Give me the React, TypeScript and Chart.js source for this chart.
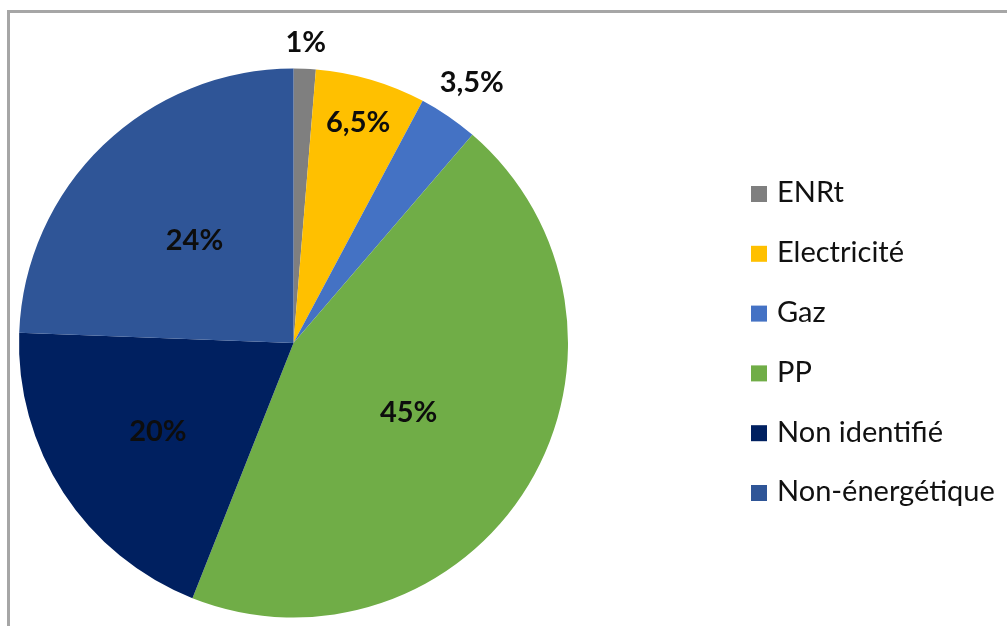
import React, { useEffect, useRef } from "react";
import { Chart, registerables } from "chart.js";

Chart.register(...registerables);

// ---- Data ----
const categories = ["ENRt", "Electricité", "Gaz", "PP", "Non identifié", "Non-énergétique"];
const shares = [1.3, 6.5, 3.5, 44.7, 19.6, 24.4];
const shareLabels = ["1%", "6,5%", "3,5%", "45%", "20%", "24%"];
const sliceColors = ["#7F7F7F", "#FFC000", "#4472C4", "#70AD47", "#002060", "#2F5597"];

// ---- Layout / style ----
const FONT = "Lato, 'Open Sans', sans-serif";
const labelRadiusFactor = [1.095, 0.835, 1.15, 0.49, 0.59, 0.52];

const dataLabelPlugin = {
  id: "sliceLabels",
  afterDatasetsDraw(chart: any) {
    const ctx = chart.ctx;
    const meta = chart.getDatasetMeta(0);
    const labels = chart.data.datasets[0].sliceLabels as string[];
    ctx.save();
    ctx.font = `bold 29px ${FONT}`;
    ctx.fillStyle = "#0d0d0d";
    ctx.textAlign = "center";
    ctx.textBaseline = "middle";
    meta.data.forEach((arc: any, i: number) => {
      const p = arc.getProps(["x", "y", "startAngle", "endAngle", "outerRadius"], true);
      const mid = (p.startAngle + p.endAngle) / 2;
      const r = p.outerRadius * labelRadiusFactor[i];
      ctx.fillText(labels[i], p.x + Math.cos(mid) * r, p.y + Math.sin(mid) * r);
    });
    ctx.restore();
  },
};

const legendPlugin = {
  id: "sideLegend",
  afterDraw(chart: any) {
    const ctx = chart.ctx;
    const ds = chart.data.datasets[0];
    const x0 = 751;
    const y0 = 193;
    const step = 59.8;
    const box = 16;
    ctx.save();
    ctx.font = `29px ${FONT}`;
    ctx.textAlign = "left";
    ctx.textBaseline = "middle";
    (chart.data.labels as string[]).forEach((lab, i) => {
      const y = y0 + i * step;
      ctx.fillStyle = ds.backgroundColor[i];
      ctx.fillRect(x0, y - box / 2 + 1, box, box);
      ctx.fillStyle = "#111111";
      ctx.fillText(lab, x0 + 26, y);
    });
    ctx.restore();
  },
};

export default function App() {
  const canvasRef = useRef<HTMLCanvasElement | null>(null);

  useEffect(() => {
    const canvas = canvasRef.current;
    if (!canvas) return;
    const chart = new Chart(canvas, {
      type: "pie",
      data: {
        labels: categories,
        datasets: [
          {
            data: shares,
            backgroundColor: sliceColors,
            borderWidth: 0,
            // @ts-ignore
            sliceLabels: shareLabels,
          } as any,
        ],
      },
      options: {
        responsive: false,
        animation: false,
        devicePixelRatio: 1,
        layout: { padding: { left: 19, top: 68, right: 439, bottom: 8 } },
        plugins: {
          legend: { display: false },
          tooltip: { enabled: false },
        },
      },
      plugins: [dataLabelPlugin, legendPlugin],
    });
    return () => chart.destroy();
  }, []);

  return (
    <div
      style={{
        position: "fixed",
        left: 0,
        top: 0,
        width: 1007,
        height: 626,
        overflow: "hidden",
        background: "#ffffff",
      }}
    >
      <div
        style={{
          position: "absolute",
          left: 7,
          top: 10,
          width: 1100,
          height: 700,
          border: "3px solid #A6A6A6",
          boxSizing: "border-box",
        }}
      />
      <canvas
        ref={canvasRef}
        width={1007}
        height={626}
        style={{ position: "absolute", left: 0, top: 0, width: 1007, height: 626 }}
      />
    </div>
  );
}
